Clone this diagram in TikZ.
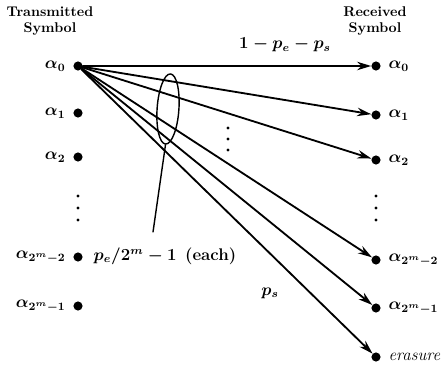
\documentclass[tikz,border=0pt]{standalone}
\usetikzlibrary{arrows.meta,shapes.geometric}
\begin{document}
\begin{tikzpicture}[x=0.025cm, y=-0.025cm, line join=round, line cap=round, >={Stealth[length=10pt,width=6pt]}]
\tikzset{every node/.style={font=\large\boldmath}, dot/.style={circle, fill, inner sep=0pt, minimum size=6.5pt}, head/.style={font=\bfseries, align=center}, link/.style={line width=1.3pt}}
\useasboundingbox (0,0) rectangle (446,372);
\node[head] (tx) at (50,21) {Transmitted\\Symbol};
\node[head] (rx) at (375,21) {Received\\Symbol};
% left side
\foreach \n/\y/\s in {t0/66/0, t1/113/1, t2/157/2, tm2/257/{2^m-2}, tm1/306/{2^m-1}}
  \node[dot, label={[xshift=-2pt]left:$\alpha_{\s}$}] (\n) at (78,\y) {};
% right side
\foreach \n/\y/\s in {r0/66/0, r1/115/1, r2/160/2, rm2/260/{2^m-2}, rm1/308/{2^m-1}}
  \node[dot, label={[xshift=2pt]right:$\alpha_{\s}$}] (\n) at (376,\y) {};
\node[dot, label={[xshift=2pt]right:\itshape erasure}] (re) at (376,357) {};
\foreach \y in {196,208,220} {\fill (78,\y) circle (1.7); \fill (376,\y) circle (1.7);}
\foreach \y in {128,139,150} \fill (228,\y) circle (1.7);
% transitions
\foreach \n in {r0,r1,r2,rm2,rm1,re} \draw[link,->] (t0) -- (\n);
\node[draw, line width=1pt, ellipse, inner sep=0pt, minimum width=15.5pt, minimum height=50pt, rotate=-4] (grp) at (168,109) {};
\node (pc) at (285,45) {$1-p_e-p_s$};
\node (pe) at (165,256) {$p_e/2^m-1$\enspace{\bfseries(each)}};
\node (ps) at (270,293) {$p_s$};
\coordinate (tip) at (153,232);
\draw[line width=1pt] (grp.south) -- (tip);
\end{tikzpicture}
\end{document}
